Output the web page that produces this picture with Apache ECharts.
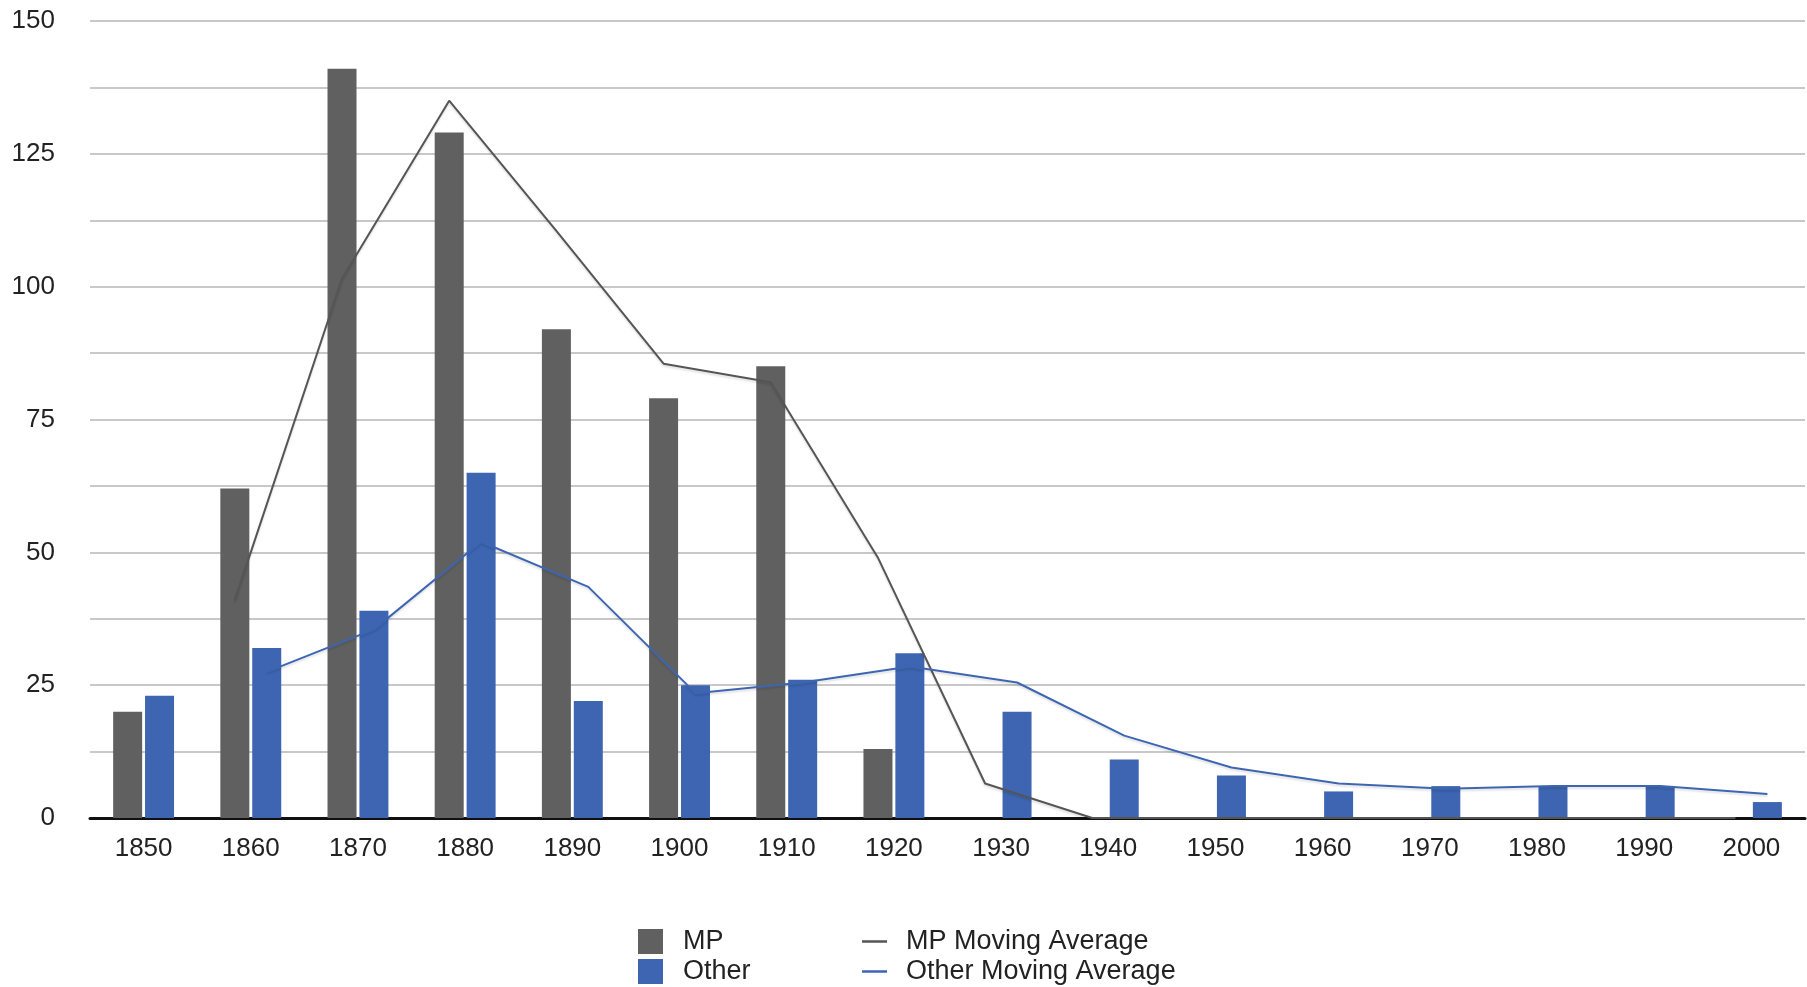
<!DOCTYPE html>
<html>
<head>
<meta charset="utf-8">
<script src="https://cdn.jsdelivr.net/npm/echarts@6/dist/echarts.min.js"></script>
<style>
html,body{margin:0;padding:0;background:#fff;}
#c{width:1807px;height:987px;}
</style>
</head>
<body>
<div id="c"></div>
<script>
var categories = ['1850','1860','1870','1880','1890','1900','1910','1920','1930','1940','1950','1960','1970','1980','1990','2000'];
var mpValues    = [20, 62, 141, 129, 92, 79, 85, 13, 0, 0, 0, 0, 0, 0, 0, 0];
var otherValues = [23, 32, 39, 65, 22, 25, 26, 31, 20, 11, 8, 5, 6, 6, 6, 3];
var mpMovingAvg    = [null, 41, 101.5, 135, 110.5, 85.5, 82, 49, 6.5, 0, 0, 0, 0, 0, 0, 0];
var otherMovingAvg = [null, 27.5, 35.5, 52, 43.5, 23.5, 25.5, 28.5, 25.5, 15.5, 9.5, 6.5, 5.5, 6, 6, 4.5];
var yTicks = [0, 25, 50, 75, 100, 125, 150];

var MP_COLOR = '#606060';
var OTHER_COLOR = '#3d65b1';
var MP_LINE_COLOR = '#555555';
var BAR_SHIFT = 0.149; // bar centre offset from category centre, in category units

function shifted(values, shift) {
  var out = [];
  values.forEach(function (v, i) { if (v !== null) out.push([i + shift, v]); });
  return out;
}

var FONT = 'Liberation Sans, Arial, sans-serif';
var chart = echarts.init(document.getElementById('c'), null, {renderer: 'canvas'});
chart.setOption({
  backgroundColor: '#ffffff',
  animation: false,
  textStyle: {fontFamily: FONT, color: '#222'},
  grid: {left: 90, right: 2, top: 21, bottom: 169, containLabel: false},
  legend: [
    {
      data: ['MP', 'Other'],
      orient: 'vertical', left: 638, top: 927,
      itemWidth: 25, itemHeight: 25, itemGap: 1, padding: 0,
      icon: 'rect',
      textStyle: {fontSize: 27, lineHeight: 29, color: '#222', padding: [0, 0, 0, 15], fontFamily: FONT}
    },
    {
      data: [
        {name: 'MP Moving Average', icon: 'rect', itemStyle: {color: MP_LINE_COLOR}},
        {name: 'Other Moving Average', icon: 'rect', itemStyle: {color: OTHER_COLOR}}
      ],
      orient: 'vertical', left: 862, top: 927,
      itemWidth: 25, itemHeight: 2.5, itemGap: 1, padding: 0,
      textStyle: {fontSize: 27, lineHeight: 29, color: '#222', padding: [0, 0, 0, 14], fontFamily: FONT}
    }
  ],
  xAxis: [
    {
      type: 'category', data: categories,
      axisLine: {show: true, lineStyle: {color: '#111', width: 3}},
      axisTick: {show: false},
      axisLabel: {fontSize: 26, color: '#222', margin: 18},
      splitLine: {show: false}
    },
    {
      type: 'value', min: -0.5, max: categories.length - 0.5, show: false
    }
  ],
  yAxis: {
    type: 'value', min: 0, max: 150, interval: 12.5,
    axisLine: {show: false}, axisTick: {show: false},
    axisLabel: {
      fontSize: 26, color: '#222', margin: 35,
      formatter: function (v) { return yTicks.indexOf(v) >= 0 ? String(v) : ''; }
    },
    splitLine: {show: true, lineStyle: {color: '#c8c8c8', width: 2}}
  },
  series: [
    {
      name: 'MP', type: 'bar', data: mpValues, xAxisIndex: 0,
      barWidth: 29, barGap: '10%',
      itemStyle: {color: MP_COLOR}
    },
    {
      name: 'Other', type: 'bar', data: otherValues, xAxisIndex: 0,
      barWidth: 29, barGap: '10%',
      itemStyle: {color: OTHER_COLOR}
    },
    {
      name: 'MP Moving Average', type: 'line', xAxisIndex: 1,
      data: shifted(mpMovingAvg, -BAR_SHIFT),
      symbol: 'none', color: MP_LINE_COLOR,
      lineStyle: {color: MP_LINE_COLOR, width: 2, shadowColor: 'rgba(0,0,0,0.12)', shadowBlur: 2, shadowOffsetY: 2},
      z: 3
    },
    {
      name: 'Other Moving Average', type: 'line', xAxisIndex: 1,
      data: shifted(otherMovingAvg, BAR_SHIFT),
      symbol: 'none', color: OTHER_COLOR,
      lineStyle: {color: OTHER_COLOR, width: 2, shadowColor: 'rgba(0,0,0,0.12)', shadowBlur: 2, shadowOffsetY: 2},
      z: 3
    }
  ]
});
</script>
</body>
</html>
